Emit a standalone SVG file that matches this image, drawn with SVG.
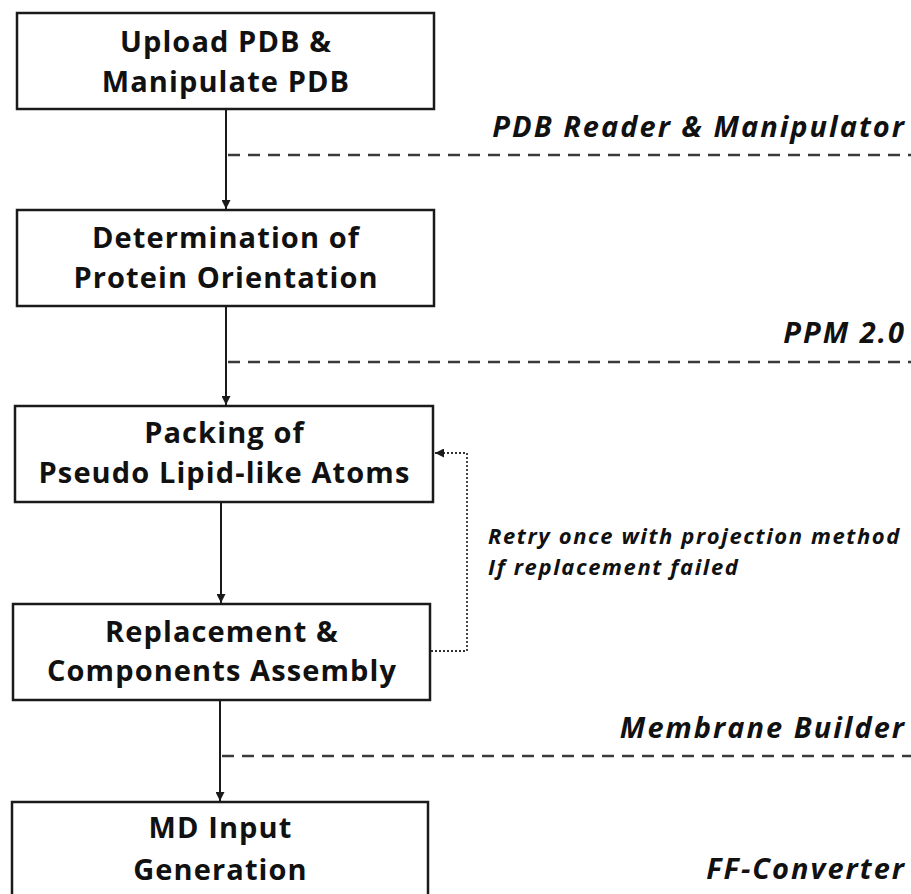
<svg xmlns="http://www.w3.org/2000/svg" width="911" height="894" viewBox="0 0 911 894">
<defs>
<style>
.box{fill:#fff;stroke:#1a1a1a;stroke-width:2.5}
.bt{font-family:"Open Sans","Liberation Sans",Arial,sans-serif;font-weight:700;font-size:29px;letter-spacing:1.1px;fill:#111;text-anchor:middle}
.lab{font-family:"Open Sans","Liberation Sans",Arial,sans-serif;font-weight:700;font-style:italic;font-size:29px;letter-spacing:2px;fill:#111;text-anchor:end}
.note{font-family:"Open Sans","Liberation Sans",Arial,sans-serif;font-weight:700;font-style:italic;font-size:22px;letter-spacing:1.6px;fill:#111}
.flow{stroke:#1a1a1a;stroke-width:2;fill:none}
.dash{stroke:#3a3a3a;stroke-width:2.6;stroke-dasharray:12 8;fill:none}
.dot{stroke:#333;stroke-width:1.8;stroke-dasharray:2 2;fill:none}
</style>
<marker id="ah" viewBox="0 0 10 10" refX="10" refY="5" markerWidth="9" markerHeight="9" markerUnits="userSpaceOnUse" orient="auto">
<path d="M0,0 L10,5 L0,10 z" fill="#1a1a1a"/>
</marker>
</defs>
<rect width="911" height="894" fill="#fff"/>
<g id="connectors">
<line class="flow" x1="226" y1="109" x2="226" y2="209" marker-end="url(#ah)"/>
<line class="flow" x1="226" y1="306" x2="226" y2="405" marker-end="url(#ah)"/>
<line class="flow" x1="221" y1="502" x2="221" y2="603" marker-end="url(#ah)"/>
<line class="flow" x1="220" y1="700" x2="220" y2="801" marker-end="url(#ah)"/>
<line class="dash" x1="228" y1="155" x2="911" y2="155"/>
<line class="dash" x1="228" y1="362" x2="911" y2="362"/>
<line class="dash" x1="222" y1="756" x2="911" y2="756"/>
<polyline class="dot" points="431,651 467,651 467,453 435,453" marker-end="url(#ah)"/>
</g>
<g id="node-upload">
<rect class="box" x="17" y="13" width="417" height="96"/>
<text class="bt" x="226" y="52">Upload PDB &amp;</text>
<text class="bt" x="226" y="92">Manipulate PDB</text>
</g>
<g id="node-orientation">
<rect class="box" x="17" y="210" width="417" height="96"/>
<text class="bt" x="226" y="248">Determination of</text>
<text class="bt" x="226" y="288">Protein Orientation</text>
</g>
<g id="node-packing">
<rect class="box" x="15" y="406" width="418" height="96"/>
<text class="bt" x="224.5" y="443">Packing of</text>
<text class="bt" x="224.5" y="483">Pseudo Lipid-like Atoms</text>
</g>
<g id="node-replacement">
<rect class="box" x="13" y="604" width="417" height="96"/>
<text class="bt" x="222" y="642">Replacement &amp;</text>
<text class="bt" x="222" y="681">Components Assembly</text>
</g>
<g id="node-md">
<rect class="box" x="12" y="802" width="416" height="110"/>
<text class="bt" x="220.5" y="838">MD Input</text>
<text class="bt" x="220.5" y="880">Generation</text>
</g>
<g id="labels">
<text class="lab" x="906" y="137">PDB Reader &amp; Manipulator</text>
<text class="lab" x="906" y="343">PPM 2.0</text>
<text class="lab" x="906" y="738">Membrane Builder</text>
<text class="lab" x="906" y="879">FF-Converter</text>
<text class="note" x="488" y="544">Retry once with projection method</text>
<text class="note" x="488" y="575">If replacement failed</text>
</g>
</svg>
